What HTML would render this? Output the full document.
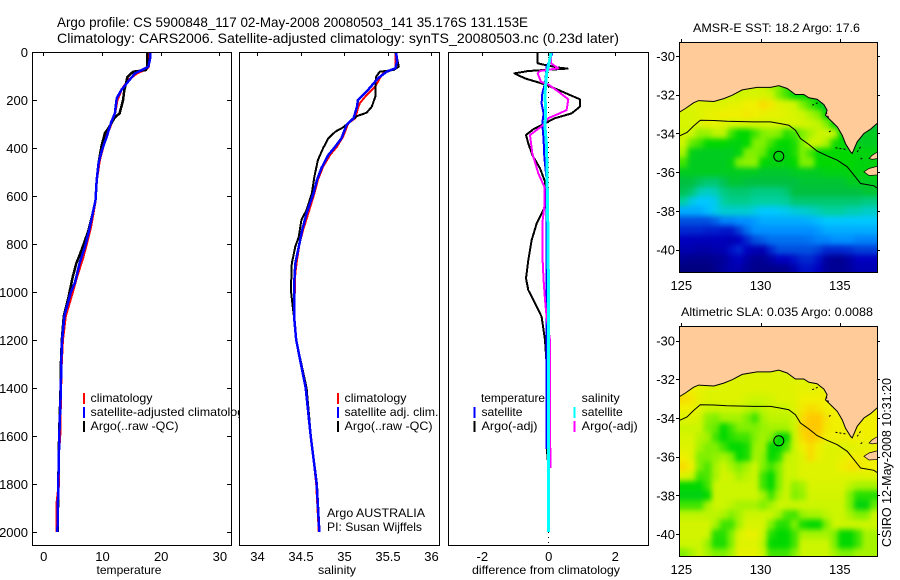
<!DOCTYPE html>
<html>
<head>
<meta charset="utf-8">
<title>Argo profile</title>
<style>
html,body{margin:0;padding:0;background:#fff;}
svg{display:block;}
text{font-family:"Liberation Sans",sans-serif;fill:#000;}
</style>
</head>
<body>
<svg id="fig" xmlns="http://www.w3.org/2000/svg" width="900" height="580" viewBox="0 0 900 580">
<rect width="900" height="580" fill="#fff"/>
<text x="57" y="27" font-size="14" textLength="471" lengthAdjust="spacingAndGlyphs">Argo profile: CS 5900848_117 02-May-2008 20080503_141 35.176S 131.153E</text>
<text x="57" y="43" font-size="14" textLength="562" lengthAdjust="spacingAndGlyphs">Climatology: CARS2006. Satellite-adjusted climatology: synTS_20080503.nc (0.23d later)</text>
<g id="layers"></g>
<text transform="translate(891,547) rotate(-90)" font-size="13" textLength="169" lengthAdjust="spacingAndGlyphs">CSIRO 12-May-2008 10:31:20</text>
</svg>
<script>
// Profile data: depth (m) and value pairs
const depthTicks = [0,200,400,600,800,1000,1200,1400,1600,1800,2000];
const tempTicks = [0,10,20,30];
const salTicks = [34,34.5,35,35.5,36];
const salTickLabels = ['34','34.5','35','35.5','36'];
const diffTicks = [-2,0,2];
const lonTicks = [125,130,135];
const latTicks = [30,32,34,36,38,40];

const tempClimDepth = [0,61,71,89,117,158,200,256,311,367,450,533,618,674,729,799,854,938,1000,1100,1200,1300,1400,1600,1680,1800,1880,2000];
const tempClim = [18,17.94,17.6,15.9,14.5,13.3,12.6,12.2,11.4,10.5,9.6,9.1,8.9,8.5,8.1,7.4,6.8,5.7,5,3.8,3.3,3.1,3.0,2.85,2.6,2.65,2.3,2.3];
const tempArgoDepth = [0,61,75,82,106,131,158,200,256,272,317,338,394,465,535,618,674,743,826,882,938,1021,1100,1200,1300,1400,1600,1800,2000];
const tempArgo = [17.7,17.72,17.5,15.3,14.3,14.1,13.8,13.6,13,12.2,11.1,10.5,9.9,9.4,9.1,8.9,8.4,7.7,6.5,5.6,5,4.3,3.5,3.15,3,2.95,2.7,2.55,2.45];
const tempSatDepth = [0,26,61,72,89,131,158,193,256,290,353,408,464,533,618,674,743,811,878,960,1000,1100,1200,1300,1400,1600,1800,2000];
const tempSat = [18.2,18.2,17.9,17,15.6,14.2,13.3,12.5,12.2,11.6,10.8,10,9.4,9.1,8.9,8.4,7.8,7.1,6.2,5.4,4.7,3.6,3.2,3.05,3,2.73,2.56,2.4];

const salClimDepth = [3,47,68,89,110,144,179,214,235,276,297,353,394,429,478,533,589,672,742,797,867,922,1061,1117,1200,1400,1600,1800,2000];
const salClim = [35.59,35.59,35.6,35.45,35.41,35.36,35.26,35.18,35.16,35.13,35.05,34.99,34.92,34.84,34.76,34.7,34.66,34.59,34.53,34.49,34.46,34.44,34.43,34.43,34.45,34.56,34.62,34.68,34.71];
const salArgoDepth = [3,26,61,75,82,103,131,186,228,253,267,290,314,332,360,401,450,519,589,658,700,769,811,881,992,1061,1117,1200,1400,1600,1800,2000];
const salArgo = [35.59,35.61,35.63,35.57,35.41,35.37,35.36,35.36,35.32,35.26,35.15,35.07,34.99,34.9,34.82,34.76,34.7,34.66,34.63,34.57,34.51,34.48,34.44,34.4,34.39,34.41,34.43,34.45,34.57,34.62,34.69,34.72];
const salSatDepth = [3,40,68,82,110,131,165,200,228,276,304,360,394,429,484,533,589,672,742,811,881,950,1117,1200,1400,1600,1800,2000];
const salSat = [35.6,35.61,35.59,35.49,35.39,35.34,35.26,35.16,35.15,35.11,35.03,34.97,34.9,34.82,34.74,34.69,34.65,34.57,34.52,34.48,34.44,34.43,34.43,34.45,34.56,34.617,34.686,34.716];

const diffTempArgoDepth = [3,47,54,65,69,79,89,110,135,158,179,197,228,256,276,297,322,346,381,429,485,540,644,714,783,867,943,992,1047,1103,1200,1300,1700];
const diffTempArgo = [-0.33,-0.32,-0.1,0.3,0.58,-0.6,-1.02,-0.7,-0.1,0.3,0.65,0.95,0.95,0.7,0.2,-0.1,-0.45,-0.67,-0.6,-0.48,-0.25,-0.1,-0.1,-0.35,-0.5,-0.6,-0.67,-0.6,-0.4,-0.2,-0.1,-0.05,-0.03];
const diffTempSatDepth = [3,33,61,131,172,214,256,297,367,436,533,1200,1654];
const diffTempSat = [0.12,0.05,-0.05,-0.1,-0.18,-0.2,-0.14,-0.18,-0.14,-0.12,-0.05,-0.05,-0.06];
const diffSalArgoDepth = [3,47,68,79,89,124,135,165,197,242,258,276,304,346,422,506,561,644,714,839,950,1033,1103,1200,1733];
const diffSalArgo = [0.08,0.08,0.3,-0.25,-0.32,-0.22,0,0.3,0.6,0.55,0.3,0,-0.15,-0.55,-0.48,-0.3,-0.12,-0.12,-0.18,-0.18,-0.14,-0.1,-0.05,0.05,0.06];
const diffSalSatDepth = [3,47,89,172,256,311,394,506,644,922,1103,1500,2000];
const diffSalSat = [0.08,0.02,-0.05,-0.1,-0.08,-0.1,-0.05,-0.04,-0.02,0,0.01,0.01,0.01];

// Map data
const mapLons = [125.15,125.65,126.15,126.65,127.15,127.65,128.15,128.65,129.15,129.65,130.15,130.65,131.15,131.65,132.15,132.65,133.15,133.65,134.15,134.65,135.15,135.65,136.15,136.65,137.15];
const mapLats = [31.5,32,32.5,33,33.5,34,34.5,35,35.5,36,36.5,37,37.5,38,38.5,39,39.5,40,40.5,41];
const sstGrid = [
[9,9,9,9,9,9,9,9,9,9,9,8.5,8,7.5,7,7,7,7,7,7,7,7,7,7,7],
[9,9,9,9,9,9,9,9,9.3,9.3,9.3,9,8,7.5,7,7,7,6.5,6,6,6,6,6,6,6],
[9.5,9.5,9.5,9.5,9.5,9.5,9.7,9.7,10,10,10.5,10.2,9.5,9.3,9,8,7.5,7,6,5.5,5.5,5.5,5.5,5.5,5.5],
[9.3,9.3,9.5,9.7,9.8,10,10,10,10.2,10,9.8,9.7,9.7,9.5,9.3,9,8.5,8,7,6,5,5,5,5,5],
[9.3,9.3,9.5,9.7,9.7,9.5,9.3,9.3,9.3,9.2,9.2,9.2,9.2,9.3,9.3,9.2,9,8.8,8,7,5.5,5,6,6,6],
[9.2,9,8.3,8.3,8.8,8.8,7.5,7,7,7.5,8,8.2,8,7.3,7.5,8,8.5,9,9,8.8,7,6,6,6.5,6.5],
[9,7.8,7.5,7,7,7,6.8,6.8,7,8,8,7.5,7,7,7.2,8,9,9,8.5,7.2,7,6.5,6.5,6.5,6.5],
[8.5,6.7,6.5,6.5,6.5,6.5,6.5,6.8,8,8,7.8,7,6.8,6.8,7.2,8,7.5,7,7,7,7,7,6.8,6.8,6.8],
[7.5,6.5,6.5,6.5,6.5,6.5,6.8,8,8.2,8.2,7,6.8,6.8,6.8,7,8,8,7,7,7,7,7,6.8,6.8,6.8],
[6.5,6.5,6.5,6.5,6.5,6.5,6.5,6.5,6.5,6.5,6.3,6.3,6.3,6.3,6.5,6.5,6.5,6.5,6.7,6.7,6.7,6.8,6.8,6.8,6.8],
[6,6,5.7,5.5,5.5,5.8,6.2,6.2,6,6,6,6,6,6,6,6.2,6.2,6.2,6.2,6.2,6.2,6.5,6.5,6.5,6.5],
[5.8,5.5,4.8,4.6,4.8,5.3,5.5,5.5,5.5,5.3,5.3,5.3,5.3,5.5,6,6,6,6,6,6,6,6,6,6.2,6.2],
[5,4.3,4,4,4.2,5,5.2,5.2,5.2,5,5,5,5,5.1,5.5,5.5,5.5,5.5,5.5,5.5,5.5,5.5,5.5,5.3,5.3],
[3.5,3.5,3.5,3.8,4.2,4.5,4.5,4.5,4.5,4.3,4,4,4.1,4.2,4.4,4.5,4.6,4.8,5,5,5,4.8,4.8,4.6,4.6],
[2,2,2,2,2.3,2.8,2.8,3,3,3.2,3.5,3.5,3.5,3.5,3.5,3.5,3.6,3.8,4,4,4,4,4,4,4],
[1.5,1.5,1.5,1.4,1.4,1.3,1.3,1.8,2.5,3,3,3,3,3,3,3,3,3.2,3.5,3.5,3.5,3.5,3.5,3.5,3.5],
[1,0.9,0.9,0.9,0.9,0.9,0.8,1,1.5,2,2.2,2.5,2.5,2.5,2.5,2.5,2.6,2.8,2.8,3,3,3,2.8,2.8,2.8],
[0.7,0.7,0.6,0.6,0.7,0.8,1.2,1.5,1,0.8,0.8,1.5,2,2,2,2,2,1.8,1.5,1.5,1.5,1.6,1.8,1.8,1.8],
[0.3,0.2,0.2,0.2,0.3,0.4,0.8,1,0.6,0.3,0.3,0.6,1,1,1.2,1.5,1.5,1.2,0.5,0.3,0.3,0.6,1,1,1],
[0,0,0,0,0.2,0.5,0.7,0.7,0.4,0.2,0.2,0.2,0.2,0.3,0.7,1.2,1.2,1,0.4,0.3,0.3,0.5,0.8,0.8,0.8]
];
const slaGrid = [
[9.5,9.5,9.5,9.5,9.5,9.5,9.5,9.5,9.5,9.5,9.5,9.5,9.5,9.5,9.5,9.5,9.5,9.5,9.5,9.5,9.5,9.5,9.5,9.5,9.5],
[9.6,9.6,9.5,9.5,9.5,9.5,9.5,9.5,9.5,9.5,9.5,9.5,9.5,9.5,9.5,9.5,9.5,9.5,9.5,9.5,9.5,9.5,9.5,9.5,9.5],
[10,10,9.7,9.5,9.5,9.5,9.5,9.5,9.5,9.5,9.5,9.5,9.5,9.5,9.6,9.7,9.7,9.8,9.8,9.8,9.8,9.8,9.8,9.8,9.8],
[10.5,10.3,9.7,9.5,9.5,9.5,9.5,9.5,9.2,9,9,9.2,9.5,9.5,9.5,10,10,10,10,10,10,10,10,10,10],
[10,10,9.5,9,9,9,9,9,8.8,8.6,8.8,9,9,9,9.5,10.2,10.5,10.3,10,10,10,10,10,10,10],
[9.5,9.5,9.2,8.2,8,8.5,8.5,8.5,8,7.5,8.5,8.8,8.8,8.8,9,10.5,11,11,10.3,10,10,10,10,10,10],
[9,9,9,8,7.8,7,7.5,8,8,8,8.3,8.5,8.5,8.5,9,10.8,11,11,10.2,10,10,10,10,10,10],
[9.3,9.3,8.7,8.5,7.5,7,7.3,7.5,7.5,8,8.5,8,7,7,9,10.5,11,10.7,10,10,10,10,10,10,10],
[9.5,9.5,8.5,8,8,7.5,7,7,7.2,8.3,8.5,7,7,7.5,9,10,10.5,10,9.5,9.5,9.5,9.5,9.7,9.8,9.8],
[10,9.5,8,8,8.2,8.5,8,7,7.2,8.5,8.2,7,7.3,8.8,9,9.5,10.5,9.8,9.5,9.5,9.7,10,10,10,10],
[10.5,10,8,7.6,8.5,9,8.5,8,8.5,9,8,7.5,8,9,9,9.5,9.5,9.5,9.5,9.5,10,10.3,10.3,10,10],
[9.5,9,7.5,7.6,8.5,9.3,9,8.5,8.8,9,7.5,7,8,9,9,9.5,9.5,9.5,9.5,9.5,9.5,9.5,9.5,9.5,9.5],
[7,7,7,7.5,9,9,9,9,9,9,7.5,7,8,9,8.2,8.5,9.3,9.3,9.3,9.3,9.3,8.8,8.5,8.5,8.5],
[6.7,6.7,6.7,7,9,9,9,9,9,9,8.5,7.5,8.5,9,8,8.3,9.2,9.2,9.2,9.2,9.2,8,7.3,7.3,7.3],
[7.5,7.5,7.5,8.5,9,9,8.8,8.5,8.5,8.5,8,8.5,9,9,9,9,9,9,9,9,9,8,6.8,6.8,7.8],
[8.8,8.8,8.8,8.8,8.8,8.6,8,8.5,9,9,9,9,8.5,7.6,7.5,8.3,8.5,8.5,8.8,9,9,8.5,8,8,9],
[9.2,9.2,9.2,9.2,8.5,7.5,7.5,8.5,9.3,9.3,9.3,8,7.3,7.3,8,7.2,7,7,8,9,9,9,9,9,9],
[9.2,9.2,9.2,9,7.3,7.3,8,9.3,9.8,9.8,9,7.3,7,7,7.5,8.5,8.5,8.5,8.5,8,7,7,7.5,8.5,8.5],
[9,9,9,8.3,7.2,7.2,8,9.5,9.5,9.5,8.8,7,7,7,7.5,9,9,9,9,8,7,7,7.5,8.5,8.5],
[8,8.5,9,8.5,8,8,8.5,9.7,9.7,9.7,9,7.5,7.5,7.5,8,9,9,9,9,8.5,8,8,8.5,8.5,8.5]
];
const coastLon = [124.9,125.26,125.78,126.1,127.05,127.68,128.2,128.84,129.78,130.63,131.15,131.68,132.2,132.73,133.05,133.57,134,134.2,134.1,134.52,134.84,135.15,135.36,135.68,135.78,136.1,136.52,136.94,137.4];
const coastLat = [32.89,32.71,32.41,32.3,32.35,32.2,32.03,31.75,31.62,31.62,31.53,31.68,31.99,31.99,32.16,32.23,32.51,32.8,33.06,33.4,33.66,34.09,34.52,34.95,35.03,34.43,34,33.78,33.45];
const contourLon = [124.9,125.36,125.78,126.2,127.05,127.89,129.57,130.63,131.26,131.78,132.2,132.52,133.05,133.57,134.2,134.84,135.47,135.89,136.31,137.15,137.4];
const contourLat = [34.12,33.95,33.61,33.32,33.33,33.37,33.4,33.4,33.49,33.57,33.83,34.26,34.57,34.91,35.15,35.38,35.72,36.15,36.58,36.7,36.84];
const isle1Lon = [136.84,137.05,137.4,137.4,137.05];
const isle1Lat = [35.29,35.12,34.95,35.29,35.34];
const isle2Lon = [136.52,136.84,137.4,137.4,136.84];
const isle2Lat = [35.98,35.81,35.69,36.14,36.17];
const reefLonA = [133.26,134.14,134.31,134.73,136.1,136.31];
const reefLatA = [32.54,32.89,33.92,34.74,34.95,35.33];
const reefLonB = [133.62,134.31,134.52,135.47,136.31,136.52];
const reefLatB = [32.41,33.23,33.83,34.83,34.69,35.21];
const argoLon = 131.153;
const argoLat = 35.176;

const NS = 'http://www.w3.org/2000/svg';
const root = document.getElementById('layers');

function el(tag, attrs, parent, txt) {
  const e = document.createElementNS(NS, tag);
  for (const k in attrs) e.setAttribute(k, attrs[k]);
  if (txt !== undefined) e.textContent = txt;
  (parent || root).appendChild(e);
  return e;
}

// axis functions
const yDepth = d => 52 + 0.24 * d;
const xTemp = t => 43.3 + 5.87 * t;
const xSal = s => 257 + 87 * (s - 34);
const xDiff = v => 548.3 + 33.25 * v;
const xLon = lon => 681.3 + 15.85 * (lon - 125);

function pointsFrom(xs, ys, fx, fy) {
  return xs.map((x, i) => fx(x).toFixed(1) + ',' + fy(ys[i]).toFixed(1)).join(' ');
}

function drawProfile(name, vals, depths, fx, color, width, parent) {
  const l = el('polyline', {points: pointsFrom(vals, depths, fx, yDepth), fill: 'none', stroke: color, 'stroke-width': width, 'shape-rendering': 'crispEdges', 'stroke-linejoin': 'round'}, parent);
  
  
}

function panel(name, x0, x1) {
  const g = el('g', {});
  
  
  const bg = el('rect', {x: x0, y: 52, width: x1 - x0, height: 493, fill: '#fff'}, g);
  
  
  return g;
}

function frame(g, name, x0, y0, x1, y1) {
  const f = el('rect', {x: x0 + 0.5, y: y0 + 0.5, width: x1 - x0, height: y1 - y0, fill: 'none', stroke: '#000', 'stroke-width': 1, 'shape-rendering': 'crispEdges'}, g);
  
  
}

function tick(g, name, x1, y1, x2, y2) {
  const t = el('line', {x1: x1, y1: y1, x2: x2, y2: y2, stroke: '#000', 'stroke-width': 1, 'shape-rendering': 'crispEdges'}, g);
  
  
}

function label(g, name, x, y, str, size, anchor, len) {
  const a = {x: x, y: y, 'font-size': size, 'text-anchor': anchor || 'start'};
  if (len) { a.textLength = len; a.lengthAdjust = 'spacingAndGlyphs'; }
  const t = el('text', a, g, str);
  
  
}

function legendRow(g, name, barX, textX, baseline, color, str, len) {
  if (color) {
    const b = el('rect', {x: barX, y: baseline - 9, width: 2, height: 11, fill: color, 'shape-rendering': 'crispEdges'}, g);
    
    
  }
  label(g, name + '-label', textX, baseline, str, 12, 'start', len);
}

function xTicks(g, prefix, ticks, fx, labels) {
  ticks.forEach((v, i) => {
    tick(g, prefix + '-x-tick', Math.round(fx(v)) + 0.5, 52, Math.round(fx(v)) + 0.5, 56);
    label(g, prefix + '-x-tick-label', fx(v) + 0.5, 561, labels ? labels[i] : String(v), 13, 'middle');
  });
}

/* Panel 1: temperature */
const p1 = panel('temperature-panel', 32, 231);
legendRow(p1, 'legend-climatology', 83, 90.5, 402, '#ff0000', 'climatology', 62);
legendRow(p1, 'legend-satellite-adjusted', 83, 90.5, 416, '#0000ff', 'satellite-adjusted climatology', 160);
legendRow(p1, 'legend-argo', 83, 90.5, 430, '#000', 'Argo(..raw -QC)', 88);
drawProfile('temperature-climatology-line', tempClim, tempClimDepth, xTemp, '#ff0000', 2.5, p1);
drawProfile('temperature-argo-line', tempArgo, tempArgoDepth, xTemp, '#000', 2.5, p1);
drawProfile('temperature-satellite-line', tempSat, tempSatDepth, xTemp, '#0000ff', 2.5, p1);
frame(p1, 'temperature-axes-frame', 32, 52, 231, 545);
xTicks(p1, 'temperature', tempTicks, xTemp);
depthTicks.forEach(d => {
  const y = Math.round(yDepth(d)) + 0.5;
  tick(p1, 'depth-left-tick', 32, y, 37, y);
  tick(p1, 'depth-right-tick', 227, y, 231, y);
  label(p1, 'depth-tick-label', 28, yDepth(d) + 5, String(d), 13, 'end');
});
label(p1, 'temperature-axis-title', 129, 574, 'temperature', 12, 'middle', 65);

/* Panel 2: salinity */
const p2 = panel('salinity-panel', 239, 439);
legendRow(p2, 'legend-climatology', 337, 344.5, 402, '#ff0000', 'climatology', 62);
legendRow(p2, 'legend-satellite-adj', 337, 344.5, 416, '#0000ff', 'satellite adj. clim.', 94);
legendRow(p2, 'legend-argo', 337, 344.5, 430, '#000', 'Argo(..raw -QC)', 88);
label(p2, 'argo-australia-note', 327, 517, 'Argo AUSTRALIA', 12, 'start', 98);
label(p2, 'pi-note', 327, 531, 'PI: Susan Wijffels', 12, 'start', 95);
drawProfile('salinity-climatology-line', salClim, salClimDepth, xSal, '#ff0000', 2, p2);
drawProfile('salinity-argo-line', salArgo, salArgoDepth, xSal, '#000', 2, p2);
drawProfile('salinity-satellite-line', salSat, salSatDepth, xSal, '#0000ff', 2.5, p2);
frame(p2, 'salinity-axes-frame', 239, 52, 439, 545);
xTicks(p2, 'salinity', salTicks, xSal, salTickLabels);
label(p2, 'salinity-axis-title', 337, 574, 'salinity', 12, 'middle', 38);

/* Panel 3: difference */
const p3 = panel('difference-panel', 448, 648);
const zeroLine = el('line', {x1: 548.5, y1: 52, x2: 548.5, y2: 545, stroke: '#000', 'stroke-width': 1, 'stroke-dasharray': '1 4', 'shape-rendering': 'crispEdges'}, p3);


legendRow(p3, 'legend-temperature-heading', 0, 481, 402, null, 'temperature', 64);
legendRow(p3, 'legend-temperature-satellite', 473.5, 481.5, 416, '#0000ff', 'satellite', 41);
legendRow(p3, 'legend-temperature-argo', 473.5, 481.5, 430, '#000', 'Argo(-adj)', 56);
legendRow(p3, 'legend-salinity-heading', 0, 581.7, 402, null, 'salinity', 38);
legendRow(p3, 'legend-salinity-satellite', 573.5, 581.7, 416, '#00ffff', 'satellite', 41);
legendRow(p3, 'legend-salinity-argo', 573.5, 581.7, 430, '#ff00ff', 'Argo(-adj)', 56);
drawProfile('difference-temperature-argo-line', diffTempArgo, diffTempArgoDepth, xDiff, '#000', 2, p3);
drawProfile('difference-temperature-satellite-line', diffTempSat, diffTempSatDepth, xDiff, '#0000ff', 2, p3);
drawProfile('difference-salinity-argo-line', diffSalArgo, diffSalArgoDepth, xDiff, '#ff00ff', 2, p3);
drawProfile('difference-salinity-satellite-line', diffSalSat, diffSalSatDepth, xDiff, '#00ffff', 3, p3);
frame(p3, 'difference-axes-frame', 448, 52, 648, 545);
xTicks(p3, 'difference', diffTicks, xDiff);
label(p3, 'difference-axis-title', 546, 574, 'difference from climatology', 12, 'middle', 148);

/* Colour scale used by the maps */
const ramp = ['#00007f','#0000c0','#0050e0','#0090ff','#00c8ff','#00d0a0','#00c040','#00d800','#80f000','#ccf500','#f0f000','#ffc800','#ff9000'];
function hexRgb(h) { return [1,3,5].map(i => parseInt(h.substr(i,2),16)); }
function colorOf(v) {
  const c = Math.max(0, Math.min(ramp.length - 1.001, v));
  const i = Math.floor(c), f = c - i;
  const a = hexRgb(ramp[i]), b = hexRgb(ramp[i+1]);
  return 'rgb(' + a.map((p, k) => Math.round(p + (b[k]-p)*f)).join(',') + ')';
}

function drawMap(name, top, bottom, lat30Y, grid, clipId) {
  const yLat = lat => lat30Y + 19.37 * (lat - 30);
  const x0 = 679, x1 = 877;
  const g = el('g', {});
  
  
  const defs = el('defs', {}, g);
  const cp = el('clipPath', {id: clipId}, defs);
  el('rect', {x: x0, y: top, width: x1 - x0, height: bottom - top}, cp);
  const blur = el('filter', {id: clipId + '-blur', filterUnits: 'userSpaceOnUse', x: x0 - 30, y: top - 30, width: x1 - x0 + 60, height: bottom - top + 60, 'color-interpolation-filters': 'sRGB'}, defs);
  el('feGaussianBlur', {stdDeviation: 2.6}, blur);
  const body = el('g', {'clip-path': 'url(#' + clipId + ')'}, g);
  const land0 = el('rect', {x: x0, y: top, width: x1 - x0, height: bottom - top, fill: '#ffcc99'}, body);
  
  
  const cells = el('g', {filter: 'url(#' + clipId + '-blur)'}, body);
  
  
  grid.forEach((row, r) => {
    row.forEach((v, c) => {
      const cx = xLon(mapLons[c]), cy = yLat(mapLats[r]);
      const padL = c === 0 ? 20 : 0, padR = c === row.length - 1 ? 20 : 0;
      const padB = r === grid.length - 1 ? 20 : 0, padT = r === 0 ? 20 : 0;
      const cell = el('rect', {x: (cx - 3.96 - padL).toFixed(2), y: (cy - 4.84 - padT).toFixed(2), width: 8.4 + padL + padR, height: 10.1 + padT + padB, fill: colorOf(v), 'shape-rendering': 'crispEdges'}, cells);
      
      
    });
  });
  const landPts = pointsFrom(coastLon, coastLat, xLon, yLat) + ' ' + x1 + ',' + (top-2) + ' ' + x0 + ',' + (top-2);
  const land = el('polygon', {points: landPts, fill: '#ffcc99', stroke: 'none'}, body);
  
  
  const coast = el('polyline', {points: pointsFrom(coastLon, coastLat, xLon, yLat), fill: 'none', stroke: '#000', 'stroke-width': 1}, body);
  
  
  const i1 = el('polygon', {points: pointsFrom(isle1Lon, isle1Lat, xLon, yLat), fill: '#ffcc99', stroke: '#000', 'stroke-width': 0.7}, body);
  
  
  const i2 = el('polygon', {points: pointsFrom(isle2Lon, isle2Lat, xLon, yLat), fill: '#ffcc99', stroke: '#000', 'stroke-width': 0.7}, body);
  
  
  reefLonA.forEach((lon, i) => {
    const reef = el('line', {x1: xLon(lon).toFixed(1), y1: yLat(reefLatA[i]).toFixed(1), x2: xLon(reefLonB[i]).toFixed(1), y2: yLat(reefLatB[i]).toFixed(1), stroke: '#000', 'stroke-width': 1, 'stroke-dasharray': '2 2'}, body);
    
    
  });
  const cont = el('polyline', {points: pointsFrom(contourLon, contourLat, xLon, yLat), fill: 'none', stroke: '#000', 'stroke-width': 1}, body);
  
  
  const mark = el('circle', {cx: xLon(argoLon).toFixed(1), cy: yLat(argoLat).toFixed(1), r: 5, fill: 'none', stroke: '#000', 'stroke-width': 1}, body);
  
  
  frame(g, name + '-frame', x0, top, x1, bottom);
  lonTicks.forEach(lon => {
    const x = Math.round(xLon(lon)) + 0.5;
    tick(g, name + '-lon-tick', x, top - 3, x, top);
    label(g, name + '-lon-label', xLon(lon), bottom + 18, String(lon), 13, 'middle');
  });
  latTicks.forEach(lat => {
    const y = Math.round(yLat(lat)) + 0.5;
    tick(g, name + '-lat-tick', x0 - 3, y, x0, y);
    tick(g, name + '-lat-tick', x1, y, x1 + 3, y);
    label(g, name + '-lat-label', 675, yLat(lat) + 5, '-' + lat, 13, 'end');
  });
}

drawMap('sst-map', 42, 272, 56, sstGrid, 'clip-sst');
drawMap('sla-map', 326, 556, 340.5, slaGrid, 'clip-sla');
label(root, 'sst-map-title', 693, 32, 'AMSR-E SST: 18.2 Argo: 17.6', 12, 'start', 167);
label(root, 'sla-map-title', 681, 316, 'Altimetric SLA: 0.035 Argo: 0.0088', 12, 'start', 192);
</script>
</body>
</html>
